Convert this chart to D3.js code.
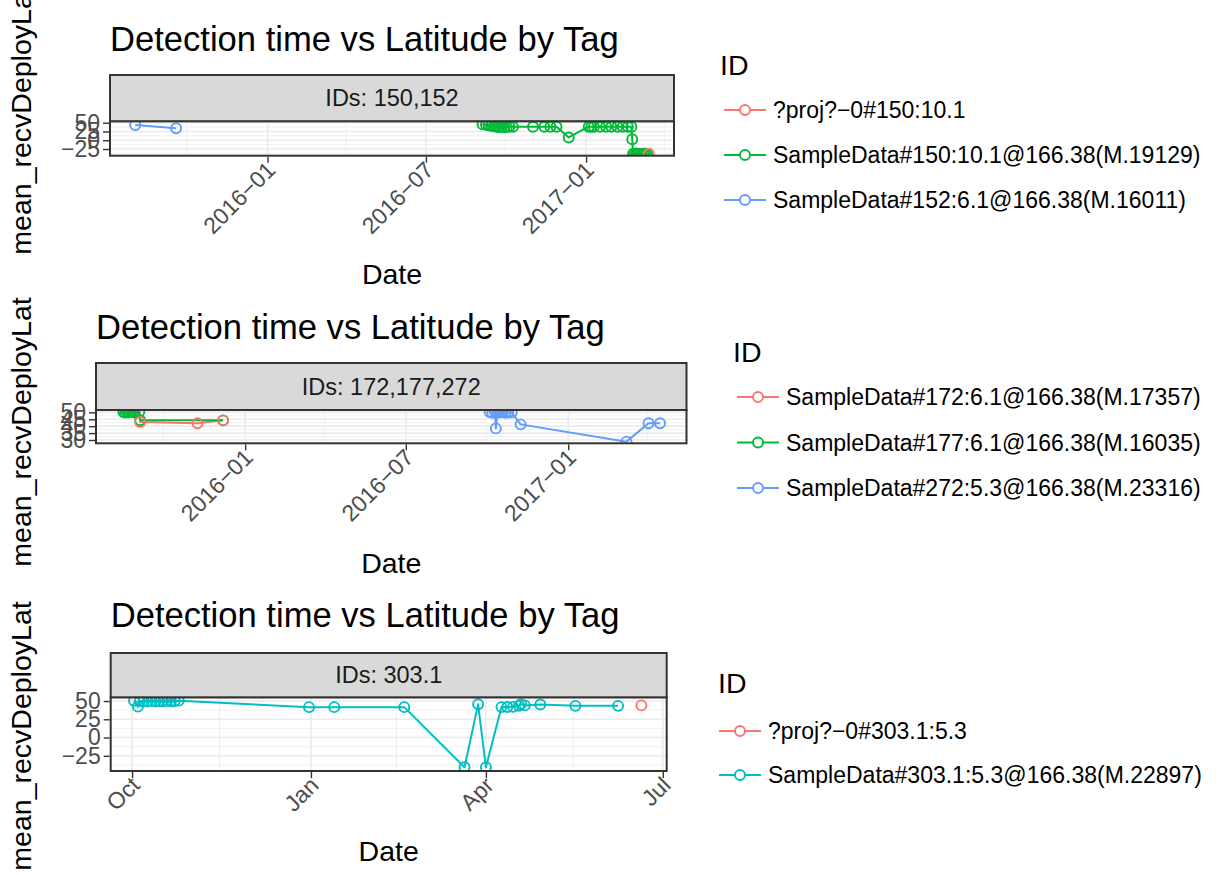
<!DOCTYPE html>
<html>
<head>
<meta charset="utf-8">
<script src="https://cdn.jsdelivr.net/npm/d3@7"></script>
<style>
    body { margin: 0; background: #ffffff; }
    svg text { font-family: "Liberation Sans", Arial, Helvetica, sans-serif; }
    .tick text { fill: #4d4d4d; font-size: 23px; }
    .tick line { stroke: #333333; stroke-width: 1.4; }
    .domain { display: none; }
    .ptitle { font-size: 34.6px; fill: #000; }
    .atitle { font-size: 28.5px; fill: #000; }
    .striptext { font-size: 23.5px; fill: #1a1a1a; }
    .legtitle { font-size: 28.5px; fill: #000; }
    .leglabel { font-size: 23px; fill: #000; }
</style>
</head>
<body>
<div id="chart"></div>
<script>

// ---- data ----
const hue3 = ["#F8766D", "#00BA38", "#619CFF"];
const hue2 = ["#F8766D", "#00BFC4"];

// panel 1: IDs 150,152
const p1Names = ["?proj?\u22120#150:10.1", "SampleData#150:10.1@166.38(M.19129)", "SampleData#152:6.1@166.38(M.16011)"];
const p1Proj150 = [["2017-03-14", -38.5]];
const p1Tag150 = [
    ["2016-09-04", 45.2], ["2016-09-08", 44.0], ["2016-09-11", 42.6], ["2016-09-14", 41.0], ["2016-09-17", 39.5],
    ["2016-09-20", 38.2], ["2016-09-23", 37.4], ["2016-09-26", 38.5], ["2016-09-29", 37.0], ["2016-10-02", 38.0],
    ["2016-10-05", 39.0], ["2016-10-09", 38.6],
    ["2016-11-01", 38.6], ["2016-11-14", 38.6], ["2016-11-21", 38.4], ["2016-11-28", 38.6], ["2016-12-12", 8.0],
    ["2017-01-04", 38.6], ["2017-01-07", 38.6], ["2017-01-10", 38.4], ["2017-01-17", 38.6], ["2017-01-24", 38.6],
    ["2017-01-30", 38.5], ["2017-02-06", 38.6], ["2017-02-12", 38.5], ["2017-02-18", 38.6], ["2017-02-22", 38.4],
    ["2017-02-23", 3.0],
    ["2017-02-24", -38.2], ["2017-02-26", -38.9], ["2017-02-28", -38.0], ["2017-03-02", -39.1], ["2017-03-04", -38.4],
    ["2017-03-06", -38.8], ["2017-03-08", -38.1], ["2017-03-10", -38.6], ["2017-03-12", -38.3]
];
const p1Tag152 = [["2015-08-02", 43.5], ["2015-09-18", 34.0]];
const p1XTicks = ["2016-01-01", "2016-07-01", "2017-01-01"];
const p1XMinor = ["2015-09-30", "2016-03-31", "2016-09-30", "2017-04-01"];
const p1YTicks = [50, 25, 0, -25];
const p1YMinor = [37.5, 12.5, -12.5, -37.5];

// panel 2: IDs 172,177,272
const p2Names = ["SampleData#172:6.1@166.38(M.17357)", "SampleData#177:6.1@166.38(M.16035)", "SampleData#272:5.3@166.38(M.23316)"];
const p2Tag172 = [["2015-09-03", 55.0], ["2015-09-04", 43.0], ["2015-11-08", 42.1], ["2015-12-07", 44.2]];
const p2Tag177 = [
    ["2015-08-16", 50.3], ["2015-08-18", 49.8], ["2015-08-20", 50.5], ["2015-08-22", 49.9], ["2015-08-24", 50.2],
    ["2015-08-26", 50.6], ["2015-08-28", 50.0], ["2015-09-03", 50.2], ["2015-09-04", 44.3], ["2015-12-07", 44.2]
];
const p2Tag272 = [
    ["2016-10-04", 50.2], ["2016-10-07", 49.6], ["2016-10-10", 50.4], ["2016-10-11", 38.4], ["2016-10-13", 50.0],
    ["2016-10-16", 49.8], ["2016-10-19", 50.3], ["2016-10-22", 49.7], ["2016-10-25", 50.1], ["2016-10-29", 49.9],
    ["2016-11-08", 41.3], ["2017-03-08", 28.8], ["2017-04-02", 42.1], ["2017-04-15", 42.1]
];
const p2XTicks = ["2016-01-01", "2016-07-01", "2017-01-01"];
const p2XMinor = ["2015-09-30", "2016-03-31", "2016-09-30", "2017-04-01"];
const p2YTicks = [50, 45, 40, 35, 30];
const p2YMinor = [47.5, 42.5, 37.5, 32.5];

// panel 3: ID 303.1
const p3Names = ["?proj?\u22120#303.1:5.3", "SampleData#303.1:5.3@166.38(M.22897)"];
const p3Proj303 = [["2017-06-20", 44.0]];
const p3Tag303 = [
    ["2016-10-02", 50.3], ["2016-10-04", 42.3], ["2016-10-05", 49.8], ["2016-10-07", 50.1], ["2016-10-09", 49.5],
    ["2016-10-11", 50.2], ["2016-10-13", 49.7], ["2016-10-15", 50.0], ["2016-10-17", 49.6], ["2016-10-19", 50.3],
    ["2016-10-21", 49.8], ["2016-10-23", 50.1], ["2016-10-25", 50.5],
    ["2016-12-31", 41.6], ["2017-01-13", 41.6], ["2017-02-18", 41.6], ["2017-03-21", -40.7], ["2017-03-28", 45.5],
    ["2017-04-01", -40.7], ["2017-04-09", 41.7], ["2017-04-12", 41.9], ["2017-04-15", 42.0], ["2017-04-18", 43.5],
    ["2017-04-19", 45.8], ["2017-04-21", 44.0], ["2017-04-29", 45.2], ["2017-05-17", 43.4], ["2017-06-08", 43.4]
];
const p3XTicks = ["2016-10-01", "2017-01-01", "2017-04-01", "2017-07-01"];
const p3XMinor = ["2016-11-15", "2017-02-14", "2017-05-16"];
const p3YTicks = [50, 25, 0, -25];
const p3YMinor = [37.5, 12.5, -12.5, -37.5];

const parseDate = d3.timeParse("%Y-%m-%d");
const minusFmt = d => d < 0 ? "\u2212" + Math.abs(d) : String(d);


class TagPanel {

    constructor(svg, config, series) {
        this.svg = svg;
        this.config = config;
        this.series = series;

        this.initVis();
    }

    initVis() {
        let vis = this;
        let c = vis.config;

        vis.g = vis.svg.append("g");

        vis.x = d3.scaleTime()
            .domain(c.xDomain.map(parseDate))
            .range([c.left, c.right]);

        vis.y = d3.scaleLinear()
            .domain(c.yDomain)
            .range([c.bottom, c.top]);

        // clip for the plot area
        vis.g.append("clipPath")
            .attr("id", c.id + "-clip")
            .append("rect")
            .attr("x", c.left)
            .attr("y", c.top)
            .attr("width", c.right - c.left)
            .attr("height", c.bottom - c.top);

        // grid (minor first, then major)
        let grid = vis.g.append("g");
        grid.selectAll(".vminor")
            .data(c.xMinor.map(parseDate))
            .enter()
            .append("line")
            .attr("x1", d => vis.x(d)).attr("x2", d => vis.x(d))
            .attr("y1", c.top).attr("y2", c.bottom)
            .attr("stroke", "#ebebeb").attr("stroke-width", 0.8);
        grid.selectAll(".hminor")
            .data(c.yMinor)
            .enter()
            .append("line")
            .attr("x1", c.left).attr("x2", c.right)
            .attr("y1", d => vis.y(d)).attr("y2", d => vis.y(d))
            .attr("stroke", "#ebebeb").attr("stroke-width", 0.8);
        grid.selectAll(".vmajor")
            .data(c.xTicks.map(parseDate))
            .enter()
            .append("line")
            .attr("x1", d => vis.x(d)).attr("x2", d => vis.x(d))
            .attr("y1", c.top).attr("y2", c.bottom)
            .attr("stroke", "#ebebeb").attr("stroke-width", 1.6);
        grid.selectAll(".hmajor")
            .data(c.yTicks)
            .enter()
            .append("line")
            .attr("x1", c.left).attr("x2", c.right)
            .attr("y1", d => vis.y(d)).attr("y2", d => vis.y(d))
            .attr("stroke", "#ebebeb").attr("stroke-width", 1.6);

        // data
        let plot = vis.g.append("g")
            .attr("clip-path", `url(#${c.id}-clip)`);

        let line = d3.line()
            .x(d => vis.x(parseDate(d[0])))
            .y(d => vis.y(d[1]));

        plot.selectAll(".series-line")
            .data(vis.series)
            .enter()
            .append("path")
            .attr("d", s => line(s.points))
            .attr("fill", "none")
            .attr("stroke", s => s.color)
            .attr("stroke-width", 2)
            .attr("stroke-linejoin", "round");

        // points: the "?proj?" series sits on top
        let pointOrder = vis.series.slice(1).concat(vis.series.slice(0, 1));
        pointOrder.forEach(s => {
            plot.selectAll(null)
                .data(s.points)
                .enter()
                .append("circle")
                .attr("cx", d => vis.x(parseDate(d[0])))
                .attr("cy", d => vis.y(d[1]))
                .attr("r", 5)
                .attr("fill", "none")
                .attr("stroke", s.color)
                .attr("stroke-width", 1.9);
        });

        // panel border
        vis.g.append("rect")
            .attr("x", c.left).attr("y", c.top)
            .attr("width", c.right - c.left).attr("height", c.bottom - c.top)
            .attr("fill", "none")
            .attr("stroke", "#333333")
            .attr("stroke-width", 2);

        // strip
        vis.g.append("rect")
            .attr("x", c.left).attr("y", c.stripTop)
            .attr("width", c.right - c.left).attr("height", c.top - c.stripTop)
            .attr("fill", "#d9d9d9")
            .attr("stroke", "#333333")
            .attr("stroke-width", 2);
        vis.g.append("text")
            .attr("class", "striptext")
            .attr("x", (c.left + c.right) / 2)
            .attr("y", (c.top + c.stripTop) / 2)
            .attr("text-anchor", "middle")
            .attr("dominant-baseline", "central")
            .text(c.strip);

        // axes
        vis.yAxis = d3.axisLeft(vis.y)
            .tickValues(c.yTicks)
            .tickSize(6)
            .tickPadding(3)
            .tickFormat(minusFmt);
        vis.g.append("g")
            .attr("class", "y-axis axis")
            .attr("transform", `translate(${c.left - 1}, 0)`)
            .call(vis.yAxis);

        vis.xAxis = d3.axisBottom(vis.x)
            .tickValues(c.xTicks.map(parseDate))
            .tickSize(6)
            .tickFormat(c.xFormat);
        let xg = vis.g.append("g")
            .attr("class", "x-axis axis")
            .attr("transform", `translate(0, ${c.bottom + 1})`)
            .call(vis.xAxis);
        xg.selectAll(".tick text")
            .attr("x", 0).attr("y", 0).attr("dy", "0.72em")
            .attr("text-anchor", "end")
            .attr("transform", "translate(-3, 3) rotate(-45)");

        // titles
        vis.g.append("text")
            .attr("class", "ptitle")
            .attr("x", c.left)
            .attr("y", c.titleY)
            .text("Detection time vs Latitude by Tag");

        vis.g.append("text")
            .attr("class", "atitle")
            .attr("x", (c.left + c.right) / 2)
            .attr("y", c.xTitleY)
            .attr("text-anchor", "middle")
            .text("Date");

        vis.g.append("text")
            .attr("class", "atitle")
            .attr("text-anchor", "middle")
            .attr("transform", `translate(31, ${c.yTitleCenter}) rotate(-90)`)
            .text("mean_recvDeployLat");

        // legend
        let leg = vis.g.append("g");
        leg.append("text")
            .attr("class", "legtitle")
            .attr("x", c.legX)
            .attr("y", c.legTitleY)
            .text("ID");
        let rows = leg.selectAll(".legrow")
            .data(vis.series)
            .enter()
            .append("g")
            .attr("transform", (d, i) => `translate(${c.legKeyX}, ${c.legRowY + i * c.legStep})`);
        rows.append("line")
            .attr("x1", 0).attr("x2", 42)
            .attr("stroke", d => d.color)
            .attr("stroke-width", 2);
        rows.append("circle")
            .attr("cx", 21).attr("r", 5)
            .attr("fill", "#fff")
            .attr("stroke", d => d.color)
            .attr("stroke-width", 1.9);
        rows.append("text")
            .attr("class", "leglabel")
            .attr("x", 49)
            .attr("dominant-baseline", "central")
            .text(d => d.name);
    }
}


let svg = d3.select("#chart").append("svg")
    .attr("width", 1223)
    .attr("height", 875);

new TagPanel(svg, {
    id: "p1", strip: "IDs: 150,152",
    left: 110, right: 674, stripTop: 75, top: 121.2, bottom: 155.7,
    xDomain: ["2015-07-04", "2017-04-12"], yDomain: [-44.1, 54.3],
    xTicks: p1XTicks, xMinor: p1XMinor, yTicks: p1YTicks, yMinor: p1YMinor,
    xFormat: d3.timeFormat("%Y\u2212%m"),
    titleY: 51, xTitleY: 284, yTitleCenter: 120,
    legX: 720, legTitleY: 75, legKeyX: 724, legRowY: 110, legStep: 45
}, [
    {name: p1Names[0], color: hue3[0], points: p1Proj150},
    {name: p1Names[1], color: hue3[1], points: p1Tag150},
    {name: p1Names[2], color: hue3[2], points: p1Tag152}
]);

new TagPanel(svg, {
    id: "p2", strip: "IDs: 172,177,272",
    left: 96, right: 686.5, stripTop: 363, top: 410, bottom: 443.3,
    xDomain: ["2015-07-16", "2017-05-15"], yDomain: [27.6, 51.7],
    xTicks: p2XTicks, xMinor: p2XMinor, yTicks: p2YTicks, yMinor: p2YMinor,
    xFormat: d3.timeFormat("%Y\u2212%m"),
    titleY: 339, xTitleY: 573, yTitleCenter: 432,
    legX: 733, legTitleY: 362, legKeyX: 737, legRowY: 397, legStep: 45.5
}, [
    {name: p2Names[0], color: hue3[0], points: p2Tag172},
    {name: p2Names[1], color: hue3[1], points: p2Tag177},
    {name: p2Names[2], color: hue3[2], points: p2Tag272}
]);

new TagPanel(svg, {
    id: "p3", strip: "IDs: 303.1",
    left: 110.7, right: 666.7, stripTop: 653, top: 697.3, bottom: 771,
    xDomain: ["2016-09-20", "2017-07-03"], yDomain: [-45.8, 55.1],
    xTicks: p3XTicks, xMinor: p3XMinor, yTicks: p3YTicks, yMinor: p3YMinor,
    xFormat: d3.timeFormat("%b"),
    titleY: 627, xTitleY: 861, yTitleCenter: 736,
    legX: 718, legTitleY: 693, legKeyX: 719, legRowY: 731, legStep: 44
}, [
    {name: p3Names[0], color: hue2[0], points: p3Proj303},
    {name: p3Names[1], color: hue2[1], points: p3Tag303}
]);

</script>
</body>
</html>
